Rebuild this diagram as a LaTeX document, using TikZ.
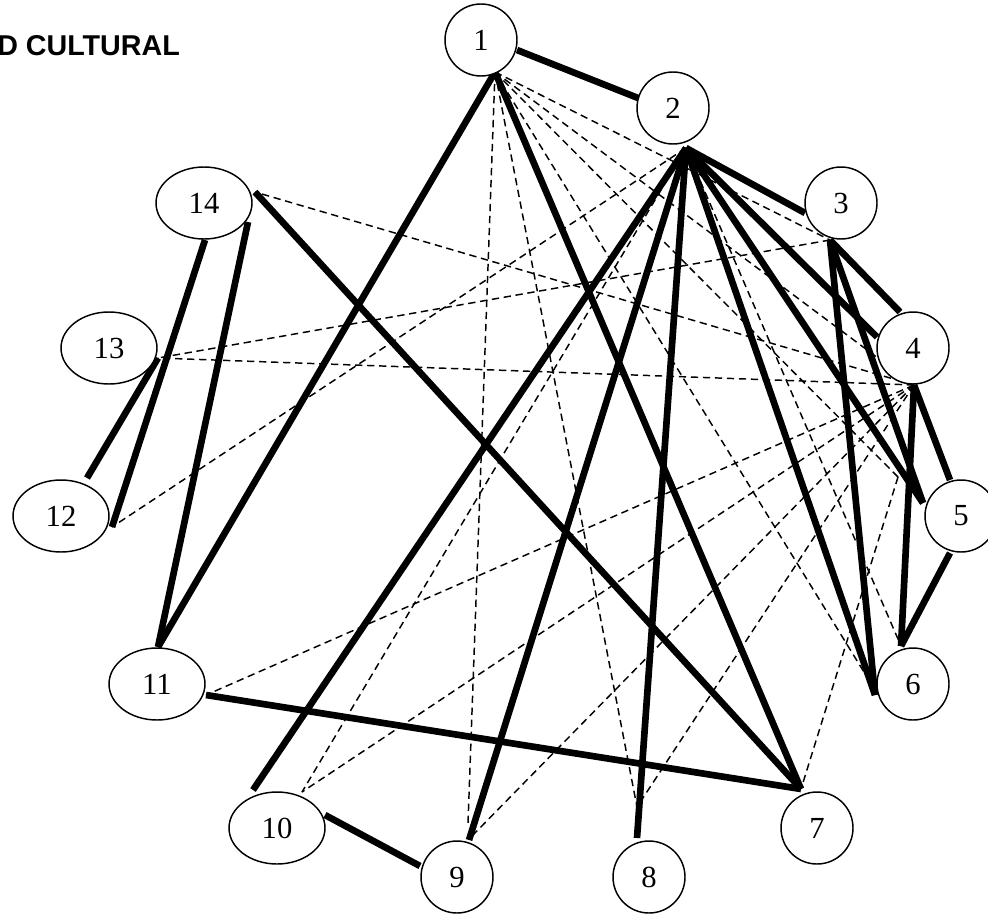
\documentclass[tikz,border=0pt]{standalone}
\usepackage{fontspec}
\usetikzlibrary{shapes.geometric}
\setmainfont{Liberation Serif}
\newfontfamily\titlefont{Liberation Sans}
\begin{document}
\begin{tikzpicture}[x=0.75pt,y=-0.75pt,
  circ/.style={circle,draw,line width=1.1pt,fill=white,minimum size=54pt,inner sep=0pt,font=\fontsize{23}{27}\selectfont},
  ell/.style={ellipse,draw,line width=1.1pt,fill=white,minimum width=72pt,minimum height=54pt,inner sep=0pt,font=\fontsize{23}{27}\selectfont},
  strong/.style={line width=5pt},
  weak/.style={line width=1.1pt,dash pattern=on 5.5pt off 3.5pt}]
\useasboundingbox (0,0) rectangle (988,914);
\clip (0,0) rectangle (988,914);
\node[anchor=base west,inner sep=0pt,font=\titlefont\bfseries\fontsize{21.5}{25}\selectfont] (title) at (-3,55) {D CULTURAL};
% attachment points
\coordinate (a1r) at (517,50);
\coordinate (a1b) at (495,72);
\coordinate (a2l) at (638,98);
\coordinate (a2b) at (686,148);
\coordinate (a3l) at (805,213);
\coordinate (a3b) at (830,240);
\coordinate (a4l) at (877,337);
\coordinate (a4t) at (900,312);
\coordinate (a4b) at (914,385);
\coordinate (a5l) at (923,503);
\coordinate (a5t) at (950,480);
\coordinate (a5d) at (898,477);
\coordinate (a5bl) at (950,553);
\coordinate (a6l) at (875,695);
\coordinate (a6d) at (867,677);
\coordinate (a6t) at (901,646);
\coordinate (a7t) at (801,789);
\coordinate (a8t) at (637,838);
\coordinate (a8d) at (637,807);
\coordinate (a9t) at (469,840);
\coordinate (a9v) at (468,823);
\coordinate (a9d) at (472,836);
\coordinate (a9l) at (420,866);
\coordinate (a10l) at (253,790);
\coordinate (a10t) at (302,792);
\coordinate (a10r) at (325,815);
\coordinate (a11t) at (158,647);
\coordinate (a11r) at (206,695);
\coordinate (a12t) at (87,478);
\coordinate (a12r) at (112,527);
\coordinate (a13r) at (158,358);
\coordinate (a14r) at (255,192);
\coordinate (a14b) at (205,240);
\coordinate (a14br) at (248,222);
% weak ties
\draw[weak] (a1b) -- (a3b);
\draw[weak] (a1b) -- (a4b);
\draw[weak] (a1b) -- (a5d);
\draw[weak] (a1b) -- (a6d);
\draw[weak] (a1b) -- (a8d);
\draw[weak] (a1b) -- (a9v);
\draw[weak] (a2b) -- (a6t);
\draw[weak] (a2b) -- (a12r);
\draw[weak] (a2b) -- (a10t);
\draw[weak] (a3b) -- (a13r);
\draw[weak] (a4b) -- (a13r);
\draw[weak] (a4b) -- (a14r);
\draw[weak] (a4b) -- (a11r);
\draw[weak] (a4b) -- (a10t);
\draw[weak] (a4b) -- (a9d);
\draw[weak] (a4b) -- (a8d);
\draw[weak] (a5d) -- (a7t);
% strong ties
\draw[strong] (a1r) -- (a2l);
\draw[strong] (a1b) -- (a11t);
\draw[strong] (a1b) -- (a7t);
\draw[strong] (a2b) -- (a3l);
\draw[strong] (a2b) -- (a4l);
\draw[strong] (a2b) -- (a5l);
\draw[strong] (a2b) -- (a6l);
\draw[strong] (a2b) -- (a8t);
\draw[strong] (a2b) -- (a9t);
\draw[strong] (a2b) -- (a10l);
\draw[strong] (a3b) -- (a4t);
\draw[strong] (a3b) -- (a5l);
\draw[strong] (a3b) -- (a6l);
\draw[strong] (a4b) -- (a5t);
\draw[strong] (a4b) -- (a6t);
\draw[strong] (a5bl) -- (a6t);
\draw[strong] (a7t) -- (a11r);
\draw[strong] (a7t) -- (a14r);
\draw[strong] (a10r) -- (a9l);
\draw[strong] (a11t) -- (a14br);
\draw[strong] (a12t) -- (a13r);
\draw[strong] (a12r) -- (a14b);
% nodes
\node[circ] (n1) at (481,40) {1};
\node[circ] (n2) at (673,108) {2};
\node[circ] (n3) at (841,203) {3};
\node[circ] (n4) at (913,348) {4};
\node[circ] (n5) at (961,516) {5};
\node[circ] (n6) at (913,684) {6};
\node[circ] (n7) at (817,828) {7};
\node[circ] (n8) at (649,877) {8};
\node[circ] (n9) at (457,877) {9};
\node[ell] (n10) at (277,828) {10};
\node[ell] (n11) at (157,684) {11};
\node[ell] (n12) at (61,516) {12};
\node[ell] (n13) at (109,348) {13};
\node[ell] (n14) at (204,203) {14};
\end{tikzpicture}
\end{document}
